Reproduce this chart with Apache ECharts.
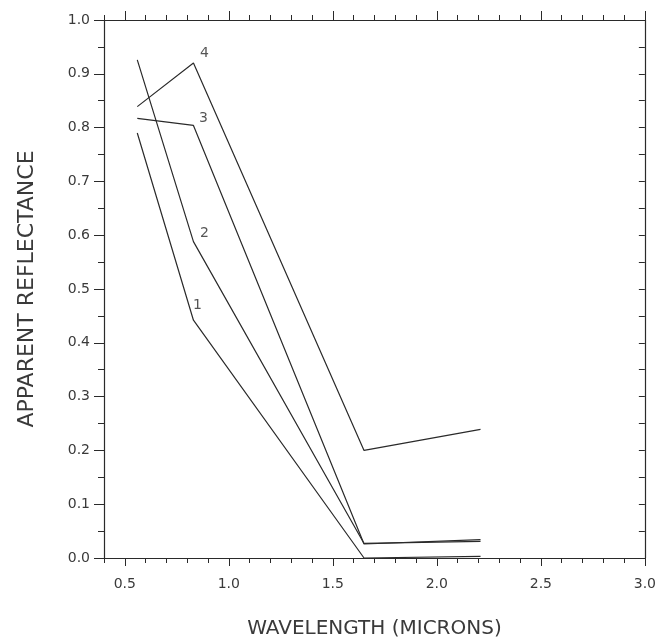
<!DOCTYPE html>
<html>
<head>
<meta charset="utf-8">
<script src="https://cdn.jsdelivr.net/npm/echarts@6/dist/echarts.min.js"></script>
<style>html,body{margin:0;padding:0;background:#fff;}#c{width:659px;height:644px;}</style>
</head>
<body>
<div id="c"></div>
<script>
// Data
const wavelengths = [0.56, 0.83, 1.65, 2.21];
const curve1 = [0.790, 0.442, 0.000, 0.003];
const curve2 = [0.926, 0.588, 0.027, 0.031];
const curve3 = [0.817, 0.804, 0.026, 0.034];
const curve4 = [0.839, 0.920, 0.200, 0.239];
const curveNames = ['1', '2', '3', '4'];
const xMajorTicks = [0.5, 1.0, 1.5, 2.0, 2.5, 3.0];
const xTitle = 'WAVELENGTH (MICRONS)';
const yTitle = 'APPARENT REFLECTANCE';

const curves = [curve1, curve2, curve3, curve4];
const labelOffsets = [[4, -15], [11, -8], [10, -7], [11, -10]];

const ink = '#2a2a2a';
const font = 'DejaVu Sans';

const lineSeries = curves.map((c, i) => ({
  type: 'line',
  name: curveNames[i],
  xAxisIndex: 0, yAxisIndex: 0,
  symbol: 'none',
  silent: true,
  lineStyle: { color: ink, width: 1.2 },
  data: wavelengths.map((w, j) => [w, c[j]])
}));

const labelSeries = curves.map((c, i) => ({
  type: 'scatter',
  xAxisIndex: 0, yAxisIndex: 0,
  symbolSize: 1,
  silent: true,
  itemStyle: { color: 'rgba(0,0,0,0)' },
  label: {
    show: true, position: 'inside', offset: labelOffsets[i],
    formatter: curveNames[i], color: ink, fontSize: 14, fontFamily: font
  },
  data: [[wavelengths[1], c[1]]]
}));

const axisLine = { show: true, lineStyle: { color: ink, width: 1.2 } };
const tickStyle = { color: ink, width: 1 };

const chart = echarts.init(document.getElementById('c'));
chart.setOption({
  animation: false,
  backgroundColor: '#fff',
  grid: { left: 104, right: 14, top: 20, bottom: 83, containLabel: false },
  xAxis: [
    {
      type: 'value', position: 'bottom', min: 0.4, max: 3.0,
      axisLine: axisLine,
      axisTick: { show: true, customValues: xMajorTicks, length: 8, lineStyle: tickStyle },
      axisLabel: { customValues: xMajorTicks, formatter: v => v.toFixed(1), margin: 19,
                   fontSize: 14, color: '#3a3a3a', fontFamily: font },
      splitLine: { show: false },
      name: xTitle, nameLocation: 'middle', nameGap: 61,
      nameTextStyle: { fontSize: 20, color: '#3a3a3a', fontFamily: font }
    },
    {
      type: 'value', position: 'bottom', min: 0.4, max: 3.0, interval: 0.1,
      axisLine: { show: false },
      axisTick: { show: true, length: 5, lineStyle: tickStyle },
      axisLabel: { show: false }, splitLine: { show: false }
    },
    {
      type: 'value', position: 'top', min: 0.4, max: 3.0,
      axisLine: axisLine,
      axisTick: { show: true, customValues: xMajorTicks, length: 9, lineStyle: tickStyle },
      axisLabel: { show: false }, splitLine: { show: false }
    },
    {
      type: 'value', position: 'top', min: 0.4, max: 3.0, interval: 0.1,
      axisLine: { show: false },
      axisTick: { show: true, length: 5, lineStyle: tickStyle },
      axisLabel: { show: false }, splitLine: { show: false }
    }
  ],
  yAxis: [
    {
      type: 'value', position: 'left', min: 0, max: 1, interval: 0.1,
      axisLine: axisLine,
      axisTick: { show: true, length: 10, lineStyle: tickStyle },
      minorTick: { show: true, splitNumber: 2, length: 6, lineStyle: tickStyle },
      axisLabel: { formatter: v => v.toFixed(1), margin: 14, fontSize: 14, color: '#3a3a3a', fontFamily: font },
      splitLine: { show: false },
      name: yTitle, nameLocation: 'middle', nameGap: 66,
      nameTextStyle: { fontSize: 22, color: '#3a3a3a', fontFamily: font }
    },
    {
      type: 'value', position: 'right', min: 0, max: 1, interval: 0.05,
      axisLine: axisLine,
      axisTick: { show: true, inside: true, length: 6, lineStyle: tickStyle },
      axisLabel: { show: false }, splitLine: { show: false }
    }
  ],
  series: lineSeries.concat(labelSeries)
});
</script>
</body>
</html>
